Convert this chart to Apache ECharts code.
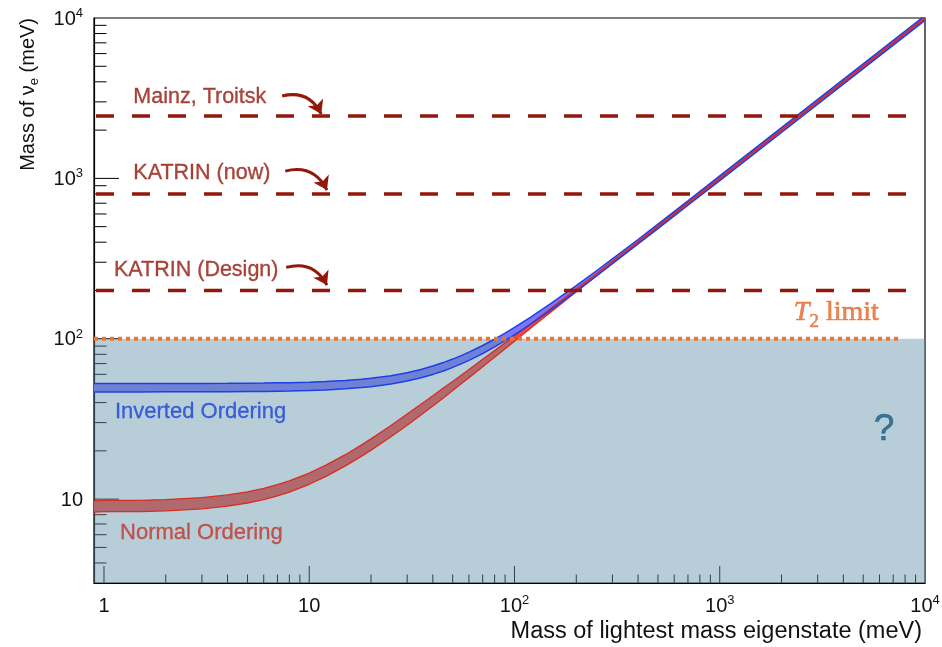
<!DOCTYPE html>
<html><head><meta charset="utf-8">
<script src="https://cdn.jsdelivr.net/npm/echarts@6/dist/echarts.min.js"></script>
<style>html,body{margin:0;padding:0;background:#fff}#c{width:942px;height:647px}</style>
</head><body><div id="c"></div>
<script>
const X_MIN = 0.894, X_MAX = 10000, Y_MIN = 3, Y_MAX = 10000;

// lightest mass eigenstate (meV)
const massLightest = [0.894, 1, 1.5, 2, 3, 4, 5, 6, 7, 8, 10, 12, 15, 18, 20, 25, 30, 35, 40, 45, 50, 55, 60, 65, 70, 75, 80, 90, 100, 120, 150, 200, 250, 300, 400, 500, 700, 1000, 2000, 5000, 10000];
// Normal ordering band (meV)
const normalLower = [8.29, 8.36, 8.37, 8.46, 8.70, 9.04, 9.46, 9.94, 10.48, 11.07, 12.38, 13.81, 16.11, 18.54, 20.21, 24.50, 28.88, 33.45, 38.08, 42.72, 47.62, 52.42, 57.23, 62.07, 66.93, 71.87, 76.81, 86.63, 96.5, 116.6, 146.5, 196.5, 246.2, 296.0, 395.7, 495.4, 693.6, 990.8, 1981.6, 4954, 9908];
const normalUpper = [9.74, 9.82, 9.83, 9.94, 10.22, 10.62, 11.11, 11.67, 12.31, 13.01, 14.55, 16.23, 18.93, 21.79, 23.75, 28.78, 33.93, 39.01, 44.13, 49.28, 54.17, 59.23, 64.30, 69.35, 74.41, 79.38, 84.36, 94.42, 104.4, 124.2, 154.1, 203.9, 254.2, 304.3, 404.5, 504.6, 706.6, 1009.3, 2018.6, 5046, 10093];
// Inverted ordering band (meV)
const invertedLower = [46.62, 46.63, 46.64, 46.66, 46.71, 46.77, 46.86, 46.96, 47.09, 47.23, 47.57, 47.97, 48.73, 49.61, 50.29, 52.23, 54.52, 57.10, 59.94, 63.01, 66.27, 69.74, 73.34, 77.08, 80.93, 84.93, 89.0, 97.31, 105.8, 123.5, 150.9, 197.6, 245.6, 293.8, 390.5, 486.4, 680.0, 967.3, 1933, 4831, 9662];
const invertedUpper = [52.55, 52.56, 52.58, 52.60, 52.65, 52.72, 52.82, 52.94, 53.09, 53.23, 53.62, 54.07, 54.93, 55.92, 56.68, 58.87, 61.45, 64.36, 67.57, 71.03, 74.70, 78.50, 82.49, 86.60, 90.81, 95.07, 99.43, 108.41, 117.7, 136.4, 165.4, 214.7, 264.6, 314.8, 415.9, 519.0, 724.1, 1036.2, 2070.6, 5175, 10350];

// experimental limits (meV)
const limitNames = ['Mainz, Troitsk', 'KATRIN (now)', 'KATRIN (Design)'];
const limitValues = [2450, 800, 200];
const limitSpanX = [0.914, 8200];
const limitLabelAnchor = [[1.39, 3228], [1.39, 1075], [1.119, 270]];
const arrowTails = [[7.38, 3262], [7.64, 1110], [7.72, 278.5]];
const arrowTips = [[11.44, 2518], [12.2, 845], [12.2, 216]];

const t2Limit = 100;
const t2SpanX = [X_MIN, 7500];
const t2LabelAnchor = [2296, 144.6];
const questionAnchor = [6310, 26.9];

const orderingNames = ['Inverted Ordering', 'Normal Ordering'];
const orderingAnchor = [[1.131, 34.8], [1.197, 6.13]];

const xMajorTicks = [1, 10, 100, 1000];
const xMinorTicks = [2,3,4,5,6,7,8,9, 20,30,40,50,60,70,80,90, 200,300,400,500,600,700,800,900, 2000,3000,4000,5000,6000,7000,8000,9000];
const yMajorTicks = [10, 100, 1000];
const yMinorTicks = [4,5,6,7,8,9, 20,30,40,50,60,70,80,90, 200,300,400,500,600,700,800,900, 2000,3000,4000,5000,6000,7000,8000,9000];

const FONT = 'Liberation Sans';
const DARKRED = '#93170a';
const ORANGE = '#e5682a';

const pairs = (ys) => massLightest.map((x, i) => [x, ys[i]]);

function powLabel(v) {
  const l = Math.log10(v), k = Math.round(l);
  if (Math.abs(l - k) > 1e-6) return '';
  if (k === 0) return '{b|1}';
  if (k === 1) return '{b|10}';
  return '{b|10}{s|' + k + '}';
}
const labelRich = {
  b: {fontSize: 20, fontFamily: FONT, color: '#111', lineHeight: 22, verticalAlign: 'bottom'},
  s: {fontSize: 13, fontFamily: FONT, color: '#111', lineHeight: 13, verticalAlign: 'top'}
};

const tickData = []
  .concat(xMajorTicks.map(v => [v, Y_MIN, 0]))
  .concat(xMinorTicks.map(v => [v, Y_MIN, 1]))
  .concat(yMajorTicks.map(v => [X_MIN, v, 2]))
  .concat(yMinorTicks.map(v => [X_MIN, v, 3]));

const band = (lower, upper, fill) => ({
  type: 'custom', coordinateSystem: 'cartesian2d', data: [[X_MIN, Y_MIN]], clip: true, silent: true, z: 2,
  renderItem(params, api) {
    const top = massLightest.map((x, i) => api.coord([x, upper[i]]));
    const bot = massLightest.map((x, i) => api.coord([x, lower[i]])).reverse();
    return {type: 'polygon', shape: {points: top.concat(bot)}, style: {fill}};
  }
});

const edge = (data, color, width) => ({
  type: 'line', data, symbol: 'none', smooth: false,
  lineStyle: {color, width}, silent: true, z: 4
});

const series = [
  {
    type: 'custom', coordinateSystem: 'cartesian2d', data: tickData, z: 2, silent: true,
    dimensions: ['x', 'y', 'kind'], encode: {x: 0, y: 1},
    renderItem(params, api) {
      const p = api.coord([api.value(0), api.value(1)]);
      const kind = api.value(2);
      const len = [17, 8.5, 25, 12.5][kind];
      const shape = kind < 2
        ? {x1: p[0], y1: p[1], x2: p[0], y2: p[1] - len}
        : {x1: p[0], y1: p[1], x2: p[0] + len, y2: p[1]};
      return {type: 'line', shape, style: {stroke: '#000', lineWidth: 1}};
    }
  },
  band(invertedLower, invertedUpper, 'rgb(122,118,253)'),
  band(normalLower, normalUpper, 'rgb(242,75,62)'),
  {
    type: 'line', data: [[X_MIN, t2Limit], [X_MAX, t2Limit]], symbol: 'none', silent: true, z: 3,
    lineStyle: {width: 0, opacity: 0}, areaStyle: {color: 'rgba(95,144,168,0.45)', opacity: 1, origin: 'start'}
  },
  edge(pairs(normalLower), '#dc2b20', 1.3),
  edge(pairs(normalUpper), '#dc2b20', 1.3),
  edge(pairs(invertedLower), '#1d40e6', 1.5),
  edge(pairs(invertedUpper), '#1d40e6', 1.5)
];

limitValues.forEach(v => series.push({
  type: 'line', data: [[limitSpanX[0], v], [limitSpanX[1], v]], symbol: 'none', silent: true, z: 4,
  lineStyle: {color: DARKRED, width: 3.5, type: [18, 18]}
}));

series.push({
  type: 'line', data: [[t2SpanX[0], t2Limit], [t2SpanX[1], t2Limit]], symbol: 'none', silent: true, z: 4,
  lineStyle: {color: '#ec7433', width: 4, type: [4, 4]}
});

series.push({
  type: 'lines', coordinateSystem: 'cartesian2d', silent: true, z: 4,
  symbol: ['none', 'arrow'], symbolSize: 13,
  lineStyle: {color: DARKRED, width: 3, curveness: 0.4, opacity: 1},
  data: arrowTails.map((t, i) => ({coords: [t, arrowTips[i]]}))
});

const textItems = [];
limitNames.forEach((n, i) => textItems.push({
  value: limitLabelAnchor[i],
  label: {formatter: n, color: DARKRED, fontSize: 21.5, textBorderColor: DARKRED, textBorderWidth: 0.35}
}));
textItems.push({value: orderingAnchor[0], label: {formatter: orderingNames[0], color: '#1d43d8', fontSize: 22, textBorderColor: '#1d43d8', textBorderWidth: 0.3}});
textItems.push({value: orderingAnchor[1], label: {formatter: orderingNames[1], color: '#c0352b', fontSize: 22, textBorderColor: '#c0352b', textBorderWidth: 0.3}});
textItems.push({
  value: t2LabelAnchor,
  label: {
    formatter: '{t|T}{s|2}{l| limit}',
    rich: {
      t: {fontFamily: 'Liberation Serif', fontStyle: 'italic', fontSize: 28, lineHeight: 28, verticalAlign: 'top', color: ORANGE, textBorderColor: ORANGE, textBorderWidth: 0.6},
      s: {fontFamily: 'Liberation Serif', fontSize: 19, lineHeight: 19, padding: [13, 0, 0, 0], verticalAlign: 'top', color: ORANGE, textBorderColor: ORANGE, textBorderWidth: 0.5},
      l: {fontFamily: 'Liberation Serif', fontSize: 28, lineHeight: 28, verticalAlign: 'top', color: ORANGE, textBorderColor: ORANGE, textBorderWidth: 0.6}
    }
  }
});
textItems.push({value: questionAnchor, label: {formatter: '?', color: '#1b5d80', fontSize: 37, position: 'inside', textBorderColor: '#1b5d80', textBorderWidth: 0.6}});

series.push({
  type: 'scatter', symbolSize: 0, silent: true, z: 6, data: textItems,
  label: {show: true, position: 'right', distance: 0, fontFamily: FONT}
});

const chart = echarts.init(document.getElementById('c'), null, {renderer: 'canvas'});
chart.setOption({
  animation: false,
  backgroundColor: '#fff',
  grid: {left: 94, right: 17, top: 18, bottom: 64, show: true, borderColor: '#000', borderWidth: 1.2, backgroundColor: 'transparent', containLabel: false, outerBoundsMode: 'none'},
  xAxis: {
    type: 'log', logBase: 10, min: X_MIN, max: X_MAX,
    axisLine: {show: true, lineStyle: {color: '#000', width: 1.2}},
    axisTick: {show: false}, minorTick: {show: false}, splitLine: {show: false},
    axisLabel: {margin: 11, formatter: powLabel, rich: labelRich, showMinLabel: true, showMaxLabel: true},
    name: 'Mass of lightest mass eigenstate (meV)', nameLocation: 'end', nameGap: -3,
    nameTextStyle: {align: 'right', verticalAlign: 'top', padding: [37, 0, 0, 0], fontSize: 23.5, fontFamily: FONT, color: '#111'}
  },
  yAxis: {
    type: 'log', logBase: 10, min: Y_MIN, max: Y_MAX,
    axisLine: {show: true, lineStyle: {color: '#000', width: 1.2}},
    axisTick: {show: false}, minorTick: {show: false}, splitLine: {show: false},
    axisLabel: {margin: 11, formatter: powLabel, rich: labelRich, showMinLabel: true, showMaxLabel: true}
  },
  graphic: [{
    type: 'text', x: 28, y: 18, rotation: Math.PI / 2, silent: true,
    style: {
      text: '{m|Mass of ν}{e|e}{m| (meV)}', align: 'right', verticalAlign: 'middle',
      rich: {
        m: {fontSize: 20, fontFamily: FONT, fill: '#111', lineHeight: 20, verticalAlign: 'top'},
        e: {fontSize: 13, fontFamily: FONT, fill: '#111', lineHeight: 13, padding: [10, 0, 0, 0], verticalAlign: 'top'}
      }
    }
  }],
  series
});
</script></body></html>
